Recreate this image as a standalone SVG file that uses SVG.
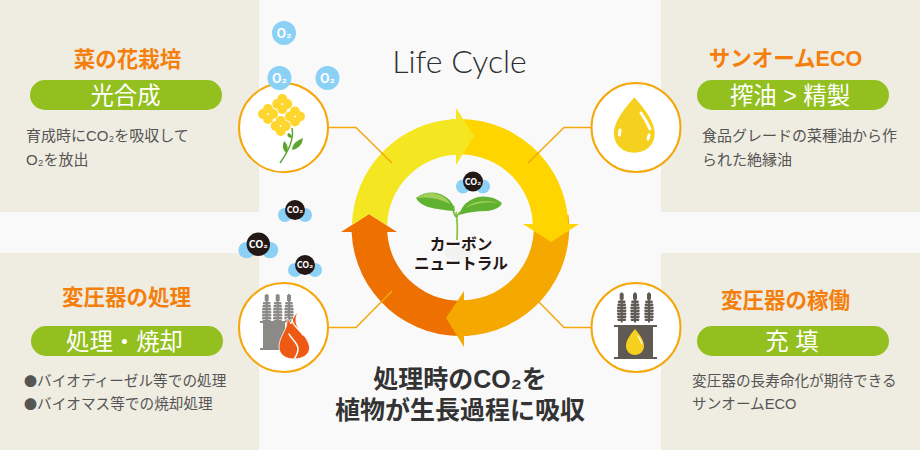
<svg xmlns="http://www.w3.org/2000/svg" xmlns:xlink="http://www.w3.org/1999/xlink" width="920" height="450" viewBox="0 0 920 450">
<style>
text{font-family:"Liberation Sans","Noto Sans CJK JP",sans-serif}
.panel{fill:#efece1}
.title{font-size:21.500px;font-weight:700;fill:#f47f0c;text-anchor:middle}
.pill{fill:#93c01f}
.pt{font-size:23.400px;fill:#fff;text-anchor:middle}
.body{font-size:15px;fill:#555}
.body2{font-size:14.650px;fill:#555}
.bul{font-size:13px;font-family:"Noto Sans CJK JP",sans-serif}
.ring{fill:#fff;stroke:#f5a80c;stroke-width:2}
.lead{fill:none;stroke:#f5a80c;stroke-width:1.500}
.o2b{fill:#8bd0f5}
.o2t{font-size:12.500px;font-weight:700;fill:#fff;text-anchor:middle;font-family:"Noto Sans CJK JP",sans-serif}
.cot{font-size:9px;font-weight:700;fill:#fff;text-anchor:middle;font-family:"Noto Sans CJK JP",sans-serif}
.blk{fill:#231815}
.head{font-size:25px;font-weight:700;fill:#333;text-anchor:middle}
.cn{font-size:15.700px;font-weight:700;fill:#231815;text-anchor:middle}
.petal{fill:#ffd62e}
.gr{fill:#8c8a86}
.dk{fill:#5f5a54}
.drop{fill:#f5d01e}
</style>
<defs>
<g id="clover"><circle class="petal" cx="0" cy="-5" r="5"/><circle class="petal" cx="0" cy="5" r="5"/><circle class="petal" cx="-5" cy="0" r="5"/><circle class="petal" cx="5" cy="0" r="5"/><circle cx="0" cy="0" r="1" fill="#fff"/></g>
<g id="co2s"><circle class="o2b" cx="-10" cy="5" r="7"/><circle class="o2b" cx="10" cy="5" r="7"/><circle class="blk" cx="0" cy="0" r="10"/><text class="cot" x="0" y="3">CO₂</text></g>
<g id="o2"><circle class="o2b" cx="0" cy="0" r="12"/><text class="o2t" x="0" y="4.500">O₂</text></g>
<g id="ins"><rect x="-1" y="0" width="2" height="30"/><rect x="-2" y="1" width="4" height="6"/><rect x="-3.800" y="8" width="7.600" height="2.400" rx="1"/><rect x="-4.300" y="11" width="8.600" height="2.400" rx="1"/><rect x="-4.700" y="14" width="9.400" height="2.400" rx="1"/><rect x="-4.700" y="17" width="9.400" height="2.400" rx="1"/><rect x="-4.700" y="20" width="9.400" height="2.400" rx="1"/><rect x="-4.700" y="23" width="9.400" height="2.400" rx="1"/><rect x="-4.300" y="26" width="8.600" height="2.400" rx="1"/></g>
</defs>
<rect width="920" height="450" fill="#f9f9f9"/>
<g id="panels">
<rect class="panel" x="0" y="0" width="259" height="212"/>
<rect class="panel" x="0" y="253" width="259" height="197"/>
<rect class="panel" x="661" y="0" width="259" height="212"/>
<rect class="panel" x="661" y="253" width="259" height="197"/>
</g>
<g id="cycle">
<path id="arc-orange" fill="#ee7000" d="M470,335.500A108.500,108.500 0 0 1 351.600,232L341,232L369,214L397,232L387.200,232A73,73 0 0 0 470,300Z"/>
<path id="arc-amber" fill="#f5a800" d="M568.500,215A108.500,108.500 0 0 1 464,335.900L464,347L446,318L464,291L464,300.400A73,73 0 0 0 532.800,215Z"/>
<path id="arc-gold" fill="#ffd500" d="M450,119.500A108.500,108.500 0 0 1 568.300,224L579,224L551,242L523,224L532.900,224A73,73 0 0 0 450,155Z"/>
<path id="arc-yellow" fill="#f5e622" d="M352,225A108.500,108.500 0 0 1 456,119.100L456,108L474,136L456,165L456,154.600A73,73 0 0 0 387.100,225.500L369,214Z"/>
</g>
<g id="connectors">
<path class="lead" d="M329,127.500H356L392,163"/>
<path class="lead" d="M329,327.500H356L392,291"/>
<path class="lead" d="M591,127.500H564L528,163"/>
<path class="lead" d="M591,327.500H564L539,302"/>
</g>
<g id="center">
<ellipse cx="458" cy="253" rx="14" ry="7" fill="#f2f2f0"/>
<path d="M456,212Q458,224 457,240" fill="none" stroke="#8cc63f" stroke-width="1.800"/>
<path d="M456,217Q452,212 454,206M457,217Q458,214 460,212" fill="none" stroke="#6fb536" stroke-width="1.500"/>
<path d="M416,198Q426,191 437,193Q452,197 455,211Q440,210 428,207Q419,204 416,198Z" fill="#62b232"/>
<path d="M459,215Q463,201 478,197Q492,195 502,203Q500,209 488,211Q472,211 459,215Z" fill="#62b232"/>
<path d="M417,198Q428,191 437,194Q447,197 450,204Q434,196 417,198Z" fill="#a2cf5a"/>
<path d="M465,208Q478,197 500,203Q482,200 465,208Z" fill="#a2cf5a"/>
<use xlink:href="#co2s" href="#co2s" transform="translate(473,181.500)"/>
<text class="cn" x="461" y="249.500">カーボン</text>
<text class="cn" x="461" y="268.500">ニュートラル</text>
</g>
<text x="459.500" y="73" text-anchor="middle" style="font-family:Lato,'Noto Sans',sans-serif;font-size:32px;font-weight:300;fill:#2f2f2f">Life Cycle</text>
<g id="headline">
<text class="head" x="460" y="388">処理時のCO₂を</text>
<text class="head" x="460" y="419">植物が生長過程に吸収</text>
</g>
<g id="node-rape">
<text class="title" x="127.500" y="66.500">菜の花栽培</text>
<rect class="pill" x="30" y="80" width="192" height="30" rx="15"/>
<text class="pt" x="125.500" y="103.500">光合成</text>
<text class="body" x="26" y="141">育成時にCO₂を吸収して</text>
<text class="body" x="26" y="165">O₂を放出</text>
<circle class="ring" cx="283.500" cy="127.700" r="44.500"/>
<path d="M292,128Q295,142 280,163" fill="none" stroke="#5aa52e" stroke-width="1.500"/>
<path d="M291,138Q286,137 288,133Q292,134 292,138Z" fill="#5aa52e"/>
<path d="M292,150Q292,142 303,138Q302,148 292,150Z" fill="#5aa52e"/>
<path d="M286,153Q281,148 284,141Q290,146 286,153Z" fill="#5aa52e"/>
<use xlink:href="#clover" href="#clover" x="282.300" y="104"/>
<use xlink:href="#clover" href="#clover" x="268" y="114"/>
<use xlink:href="#clover" href="#clover" x="295" y="116.500"/>
<use xlink:href="#clover" href="#clover" x="280.700" y="126"/>
</g>
<g id="o2-bubbles">
<use xlink:href="#o2" href="#o2" x="284" y="33"/>
<use xlink:href="#o2" href="#o2" x="279.500" y="78"/>
<use xlink:href="#o2" href="#o2" x="327.500" y="78"/>
</g>
<g id="co2-bubbles">
<use xlink:href="#co2s" href="#co2s" transform="translate(295,210)"/>
<use xlink:href="#co2s" href="#co2s" transform="translate(258.300,244.300) scale(1.170)"/>
<use xlink:href="#co2s" href="#co2s" transform="translate(305,265)"/>
</g>
<g id="node-oil">
<text class="title" x="785.500" y="65.500">サンオームECO</text>
<rect class="pill" x="697" y="80" width="192" height="30" rx="15"/>
<text class="pt" x="790" y="103.500">搾油 &gt; 精製</text>
<text class="body" x="702" y="141">食品グレードの菜種油から作</text>
<text class="body" x="702" y="165">られた絶縁油</text>
<circle class="ring" cx="636" cy="127.500" r="44.500"/>
<path class="drop" d="M634.300,97.300C628,105 614,120 614,133C614,145 623,152.700 634.300,152.700C646,152.700 654.700,145 654.700,133C654.700,120 641,105 634.300,97.300Z"/>
<path d="M641,113Q646,120 650,129" fill="none" stroke="#fff" stroke-width="3" stroke-linecap="round"/>
<path d="M649,135L648,139" fill="none" stroke="#fff" stroke-width="3" stroke-linecap="round"/>
<path d="M620,130L619.500,135" fill="none" stroke="#fff" stroke-width="3" stroke-linecap="round"/>
</g>
<g id="node-disposal">
<text class="title" x="126.500" y="304.500">変圧器の処理</text>
<rect class="pill" x="31" y="326" width="192" height="30" rx="15"/>
<text class="pt" x="124.500" y="349.500">処理・焼却</text>
<text class="body2" x="24" y="386"><tspan class="bul">●</tspan>バイオディーゼル等での処理</text>
<text class="body2" x="24" y="409"><tspan class="bul">●</tspan>バイオマス等での焼却処理</text>
<circle class="ring" cx="283.500" cy="327.500" r="44.500"/>
<g class="gr"><use xlink:href="#ins" href="#ins" x="266.700" y="294"/><use xlink:href="#ins" href="#ins" x="277.700" y="294"/><use xlink:href="#ins" href="#ins" x="289" y="294"/>
<rect x="260" y="321" width="25" height="2"/><rect x="263" y="323" width="22" height="26"/><rect x="260" y="348" width="20" height="2"/></g>
<path fill="#ee5a14" stroke="#fff" stroke-width="0.800" d="M298,312C294,320 296,326 302,333C307,339 309.500,344 309.500,348C309.500,355 302,359 294,359C285,359 279,354 279,347C279,339 284,333 286,327C287,324 287,321 287,318C289,320 290,322 291,324C292,320 294,315 298,312Z"/>
<path fill="none" stroke="#fff" stroke-width="1.500" stroke-linecap="round" d="M292,320C293,326 299,329 303,335M289,334C292,340 298,343 298,349C298,353 296,356 294.500,358.500"/>
</g>
<g id="node-operation">
<text class="title" x="785.500" y="308">変圧器の稼働</text>
<rect class="pill" x="697" y="326" width="192" height="30" rx="15"/>
<text class="pt" x="792" y="349.500">充 填</text>
<text class="body2" x="692" y="386">変圧器の長寿命化が期待できる</text>
<text class="body2" x="692" y="409">サンオームECO</text>
<circle class="ring" cx="636" cy="327.500" r="44.500"/>
<g class="dk"><use xlink:href="#ins" href="#ins" x="621.700" y="292.500"/><use xlink:href="#ins" href="#ins" x="635" y="292.500"/><use xlink:href="#ins" href="#ins" x="649" y="292.500"/>
<rect x="614" y="325" width="43" height="2"/><rect x="618" y="327" width="35" height="31"/><rect x="614" y="357" width="43" height="2"/></g>
<path class="drop" d="M635,329C632,333 626,339 626,346C626,351 630,355 635,355C640,355 644,351 644,346C644,339 638,333 635,329Z"/>
<path d="M638,336Q640,339 642,344" fill="none" stroke="#fff" stroke-width="1.200" stroke-linecap="round"/>
</g>
</svg>
